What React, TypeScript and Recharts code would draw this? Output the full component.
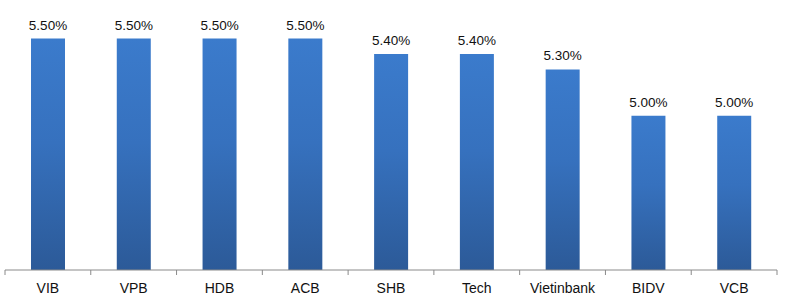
import { BarChart, Bar, XAxis, YAxis, LabelList } from "recharts";

// Bank savings rates, percent
const banks = ["VIB", "VPB", "HDB", "ACB", "SHB", "Tech", "Vietinbank", "BIDV", "VCB"];
const rates = [5.5, 5.5, 5.5, 5.5, 5.4, 5.4, 5.3, 5.0, 5.0];

const data = banks.map((name, i) => ({ name, rate: rates[i] }));

const AXIS_COLOR = "#8a8a8a";

// category label plus tick marks on the band edges (like Excel)
function BandTick(props: any) {
  const { x, y, payload, index, visibleTicksCount } = props;
  const half = payload?.offset ?? 0;
  const axisY = y - 7;
  const last = index === visibleTicksCount - 1;
  return (
    <g>
      <line x1={x - half} x2={x - half} y1={axisY} y2={axisY + 5} stroke={AXIS_COLOR} />
      {last && (
        <line x1={x + half} x2={x + half} y1={axisY} y2={axisY + 5} stroke={AXIS_COLOR} />
      )}
      <text
        x={x}
        y={axisY + 22.5}
        textAnchor="middle"
        fontSize={14}
        fontFamily="Arial, 'Liberation Sans', sans-serif"
        fill="#111"
      >
        {payload.value}
      </text>
    </g>
  );
}

export default function App() {
  return (
    <div style={{ position: "absolute", left: 0, top: 0, background: "#fff" }}>
      <BarChart
        width={787}
        height={301}
        data={data}
        margin={{ top: 0, right: 10, bottom: 0, left: 5 }}
      >
        <defs>
          <linearGradient id="barFill" x1="0" y1="0" x2="0" y2="1">
            <stop offset="0%" stopColor="#3b7bcc" />
            <stop offset="45%" stopColor="#3671be" />
            <stop offset="100%" stopColor="#2c5a98" />
          </linearGradient>
        </defs>
        <XAxis
          dataKey="name"
          height={31}
          tickSize={5}
          tickMargin={2}
          tickLine={false}
          axisLine={{ stroke: AXIS_COLOR }}
          tick={<BandTick />}
          interval={0}
        />
        <YAxis hide domain={[4, 5.75]} />
        <Bar dataKey="rate" barSize={34} fill="url(#barFill)" isAnimationActive={false}>
          <LabelList
            dataKey="rate"
            position="top"
            offset={9}
            formatter={(v: any) => `${Number(v).toFixed(2)}%`}
            style={{
              fontSize: 13.5,
              fontFamily: "Arial, 'Liberation Sans', sans-serif",
              fill: "#111",
            }}
          />
        </Bar>
      </BarChart>
    </div>
  );
}
